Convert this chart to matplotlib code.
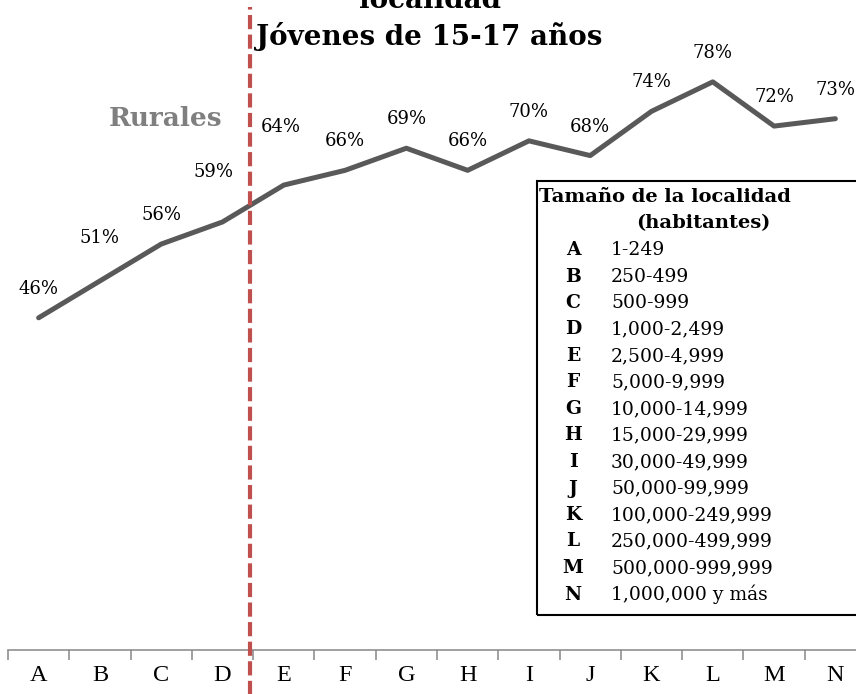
import matplotlib
matplotlib.use('Agg')
import matplotlib.pyplot as plt
import matplotlib.transforms as mtransforms
from matplotlib.patches import Rectangle

# data
categorias = ['A', 'B', 'C', 'D', 'E', 'F', 'G', 'H', 'I', 'J', 'K', 'L', 'M', 'N']
porcentajes = [46, 51, 56, 59, 64, 66, 69, 66, 70, 68, 74, 78, 72, 73]
rangos = ['1-249', '250-499', '500-999', '1,000-2,499', '2,500-4,999',
          '5,000-9,999', '10,000-14,999', '15,000-29,999', '30,000-49,999',
          '50,000-99,999', '100,000-249,999', '250,000-499,999',
          '500,000-999,999', '1,000,000 y más']

W, H = 856, 694
SERIF = 'DejaVu Serif'


def fx(px):
    return px / W


def fy(py):
    return 1 - py / H


fig = plt.figure(figsize=(W / 100, H / 100), dpi=100)
ax = fig.add_axes([fx(8), 44 / H, 858 / W, 650 / H])

x = list(range(len(categorias)))
ax.plot(x, porcentajes, color='#595959', lw=3.6, solid_capstyle='round',
        solid_joinstyle='round', zorder=3)

# data labels (pixel offsets above the point, a few were moved by hand)
label_off = {1: (0, 43), 3: (-9, 50), 4: (-3, 58)}
for i, v in enumerate(porcentajes):
    dx, dy = label_off.get(i, (0, 29))
    ax.annotate('%d%%' % v, (i, v), xytext=(dx, dy), textcoords='offset pixels',
                ha='center', va='center', fontsize=13, family=SERIF,
                color='black')

ax.set_xlim(-0.5, len(categorias) - 0.5)
ax.set_ylim(0.95, 89.1)

for s in ['left', 'right', 'top']:
    ax.spines[s].set_visible(False)
ax.spines['bottom'].set_color('#868686')
ax.spines['bottom'].set_linewidth(1.1)
ax.set_yticks([])

ax.set_xticks(x)
ax.set_xticklabels(categorias, family='Liberation Serif', fontsize=17.5)
ax.tick_params(axis='x', which='major', length=0, pad=11)
ax.set_xticks([i - 0.5 for i in range(len(categorias) + 1)], minor=True)
ax.tick_params(axis='x', which='minor', length=7, width=1.1, color='#868686')

# dashed separator rural / urbano
trans = mtransforms.blended_transform_factory(ax.transData, ax.transAxes)
ax.plot([3.45, 3.45], [-0.07, 1 - 7 / 650], transform=trans, clip_on=False,
        color='#C0504D', lw=3.0, linestyle=(0, (3.4, 1.3)), zorder=4)

# titles (first line is cut by the top edge, as in the original)
fig.text(fx(430), fy(8), 'localidad', ha='center', va='baseline',
         fontsize=20, fontweight='bold', family=SERIF)
fig.text(fx(429), fy(45), 'Jóvenes de 15-17 años', ha='center', va='baseline',
         fontsize=20, fontweight='bold', family=SERIF)
fig.text(fx(166), fy(126), 'Rurales', ha='center', va='baseline',
         fontsize=19, fontweight='bold', family=SERIF, color='#7F7F7F')

# legend box
fig.patches.append(Rectangle((fx(537), fy(615)), 340 / W, (615 - 181) / H,
                             transform=fig.transFigure, fill=False,
                             edgecolor='black', lw=1.5))
fig.text(fx(539), fy(202), 'Tamaño de la localidad', ha='left', va='baseline',
         fontsize=14, fontweight='bold', family=SERIF)
fig.text(fx(703), fy(228), '(habitantes)', ha='center', va='baseline',
         fontsize=14, fontweight='bold', family=SERIF)
for i, (c, r) in enumerate(zip(categorias, rangos)):
    yy = fy(250 + i * 26.5)
    fig.text(fx(573), yy, c, ha='center', va='center', fontsize=13.5,
             fontweight='bold', family=SERIF)
    fig.text(fx(611), yy, r, ha='left', va='center', fontsize=13.5,
             family=SERIF)

fig.savefig('out.png', dpi=100)
